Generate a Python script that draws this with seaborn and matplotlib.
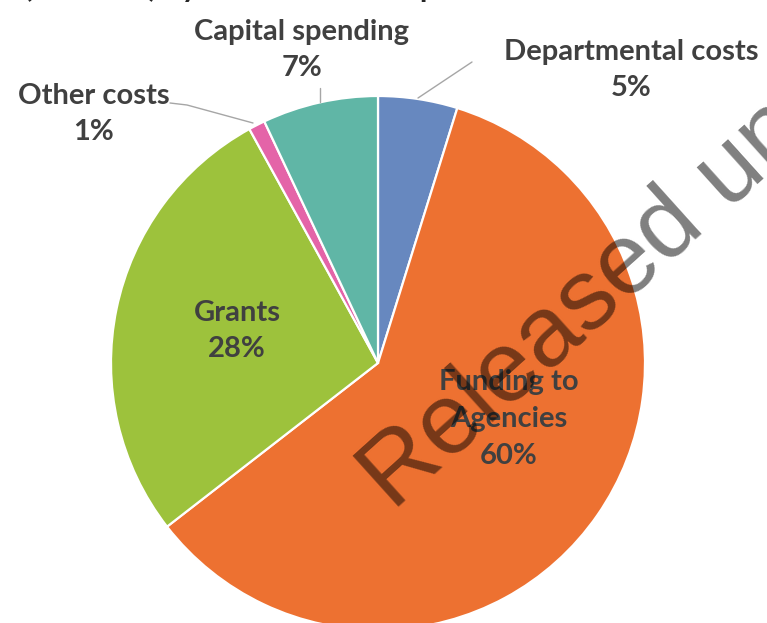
import matplotlib
matplotlib.use("Agg")
import matplotlib.pyplot as plt
import seaborn as sns

# ---- data ----
categories = ["Departmental costs", "Funding to\nAgencies", "Grants", "Other costs", "Capital spending"]
shares = [4.8, 59.7, 27.5, 1.0, 7.0]
pct_labels = ["5%", "60%", "28%", "1%", "7%"]
colors = ["#6788BF", "#ED7131", "#9DC23C", "#E464A8", "#60B6A6"]
title_text = "(£ million) by broad areas of spend"
watermark = "Released under FOI"

sns.set_theme(style="white")
plt.rcParams["font.family"] = ["Lato", "DejaVu Sans"]

W, H = 767, 623
fig = plt.figure(figsize=(W / 100, H / 100), dpi=100)
ax = fig.add_axes([0, 0, 1, 1])

cx, cy, r = 378, H - 363, 267
wedges, _ = ax.pie(shares, colors=colors, startangle=90, counterclock=False,
                   center=(cx, cy), radius=r,
                   wedgeprops=dict(edgecolor="white", linewidth=1.6))
ax.set_xlim(0, W)
ax.set_ylim(0, H)
ax.set_aspect("equal")
ax.axis("off")

# label block centres (pixels from top)
label_pos = [(631, 70), (509, 419), (237, 331), (94, 114), (302, 50)]
txt_color = "#404040"
for cat, pct, (lx, ly) in zip(categories, pct_labels, label_pos):
    ax.text(lx, H - ly, f"{cat}\n{pct}", ha="center", va="center",
            fontsize=21, fontweight="bold", color=txt_color,
            linespacing=1.52)

# leader lines (pixels from top)
lc = "#A6A6A6"
ax.plot([320, 320], [H - 88, H - 102], color=lc, lw=1)
ax.plot([418, 472], [H - 98, H - 62], color=lc, lw=1)
ax.plot([170, 187, 253], [H - 103, H - 105, H - 123], color=lc, lw=1)

# partially visible title at the top (only descenders show)
ax.text(24, H + 2.5, title_text, ha="left", va="baseline", fontsize=22,
        fontweight="bold", color="#262626", clip_on=False)

# watermark
ax.text(393, H - 512, watermark, ha="left", va="baseline", rotation=42,
        rotation_mode="anchor", fontsize=72, family="Liberation Sans",
        color="black", alpha=0.5, clip_on=False)

fig.savefig("out.png", dpi=100)
